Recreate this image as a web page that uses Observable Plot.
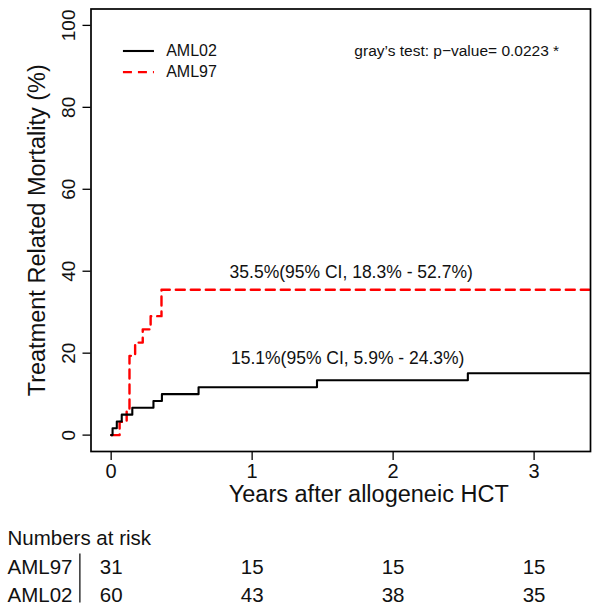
<!DOCTYPE html>
<html>
<head>
<meta charset="utf-8">
<script src="https://cdn.jsdelivr.net/npm/d3@7"></script>
<script src="https://cdn.jsdelivr.net/npm/@observablehq/plot@0.6"></script>
<style>
  html, body { margin: 0; padding: 0; background: white; }
</style>
</head>
<body>
<div id="chart"></div>
<script>
// ---- data ----
const yTicks = [0, 20, 40, 60, 80, 100];
const xTicks = [0, 1, 2, 3];
const aml02Time = [0, 0.01, 0.04, 0.075, 0.15, 0.30, 0.36, 0.62, 1.46, 2.53, 3.39];
const aml02Cif  = [0, 1.67, 3.33, 5.0, 6.67, 8.33, 10.0, 11.67, 13.4, 15.1, 15.1];
const aml97Time = [0, 0.06, 0.11, 0.13, 0.17, 0.224, 0.28, 0.357, 3.39];
const aml97Cif  = [0, 3.23, 6.45, 19.35, 22.58, 25.81, 29.03, 35.48, 35.48];
const seriesNames = ["AML02", "AML97"];
const seriesColors = ["black", "red"];
const seriesDash = [null, "9,6"];
const annotationText = ["35.5%(95% CI, 18.3% - 52.7%)", "15.1%(95% CI, 5.9% - 24.3%)"];
const annotationX = [0.84, 0.85];
const annotationY = [39.7, 18.7];
const testText = "gray’s test: p−value= 0.0223 *";
const riskTimes = [0, 1, 2, 3];
const riskAML97 = [31, 15, 15, 15];
const riskAML02 = [60, 43, 38, 35];

// ---- layout constants (data space) ----
const legendX1 = 0.087, legendX2 = 0.307, legendTextX = 0.39;
const legendY = [93.75, 88.6];
const testX = 1.725;

const ink = "#111";
const font = "'Liberation Sans', Arial, Helvetica, sans-serif";

const line02 = aml02Time.map((t, i) => ({t, v: aml02Cif[i]}));
const line97 = aml97Time.map((t, i) => ({t, v: aml97Cif[i]}));
const annots = annotationText.map((text, i) => ({text, x: annotationX[i], y: annotationY[i]}));

const chart = Plot.plot({
  width: 600,
  height: 605,
  marginTop: 8.5,
  marginRight: 10,
  marginBottom: 154,
  marginLeft: 90.5,
  x: {domain: [-0.143, 3.40]},
  y: {domain: [-4, 104]},
  style: {fontFamily: font, color: ink, background: "white", overflow: "visible"},
  marks: [
    // curves
    Plot.line(line97, {x: "t", y: "v", curve: "step-after", stroke: seriesColors[1], strokeWidth: 2.4, strokeDasharray: seriesDash[1]}),
    Plot.line(line02, {x: "t", y: "v", curve: "step-after", stroke: seriesColors[0], strokeWidth: 2.1}),
    Plot.frame({stroke: "black", strokeWidth: 1.7}),
    // y axis ticks + labels
    Plot.axisY({ticks: yTicks, tickSize: 8, tickFormat: () => "", label: null, stroke: "black", strokeWidth: 1.3}),
    Plot.text(yTicks, {y: d => d, frameAnchor: "left", dx: -22.5, rotate: -90, text: d => String(d), textAnchor: "middle", lineAnchor: "middle", fontSize: 19, fill: ink}),
    // x axis ticks + labels
    Plot.axisX({ticks: xTicks, tickSize: 9, tickPadding: 3, tickFormat: d => String(d), fontSize: 20, label: null, stroke: "black", strokeWidth: 1.3, fill: ink}),
    // axis titles
    Plot.text(["Years after allogeneic HCT"], {frameAnchor: "bottom", dx: 28, dy: 43, textAnchor: "middle", lineAnchor: "middle", fontSize: 23.5, fill: ink}),
    Plot.text(["Treatment Related Mortality (%)"], {frameAnchor: "left", dx: -53.5, rotate: -90, textAnchor: "middle", lineAnchor: "middle", fontSize: 23.5, fill: ink}),
    // legend
    Plot.ruleY([0], {y: () => legendY[0], x1: legendX1, x2: legendX2, stroke: seriesColors[0], strokeWidth: 2.1}),
    Plot.ruleY([0], {y: () => legendY[1], x1: legendX1, x2: legendX2, stroke: seriesColors[1], strokeWidth: 2.4, strokeDasharray: seriesDash[1]}),
    Plot.text(seriesNames, {x: legendTextX, y: (d, i) => legendY[i], text: d => d, textAnchor: "start", fontSize: 16, fill: ink}),
    Plot.text([testText], {x: testX, y: legendY[0], textAnchor: "start", fontSize: 15.5, fill: ink}),
    // annotations
    Plot.text(annots, {x: "x", y: "y", text: "text", textAnchor: "start", fontSize: 17.5, fill: ink}),
    // numbers at risk
    Plot.text(["Numbers at risk"], {frameAnchor: "bottom-left", dx: -83.5, dy: 87, textAnchor: "start", lineAnchor: "middle", fontSize: 20.5, fill: ink}),
    Plot.text(["AML97"], {frameAnchor: "bottom-left", dx: -83.5, dy: 116, textAnchor: "start", lineAnchor: "middle", fontSize: 20.5, fill: ink}),
    Plot.text(["AML02"], {frameAnchor: "bottom-left", dx: -83.5, dy: 144, textAnchor: "start", lineAnchor: "middle", fontSize: 20.5, fill: ink}),
    Plot.ruleX([0], {x: () => -0.222, y1: -29, y2: -41, stroke: "#333", strokeWidth: 1.5}),
    Plot.text(riskTimes, {x: d => d, frameAnchor: "bottom", dy: 116, text: (d, i) => String(riskAML97[i]), lineAnchor: "middle", fontSize: 20.5, fill: ink}),
    Plot.text(riskTimes, {x: d => d, frameAnchor: "bottom", dy: 144, text: (d, i) => String(riskAML02[i]), lineAnchor: "middle", fontSize: 20.5, fill: ink})
  ]
});
document.getElementById("chart").appendChild(chart);
</script>
</body>
</html>
